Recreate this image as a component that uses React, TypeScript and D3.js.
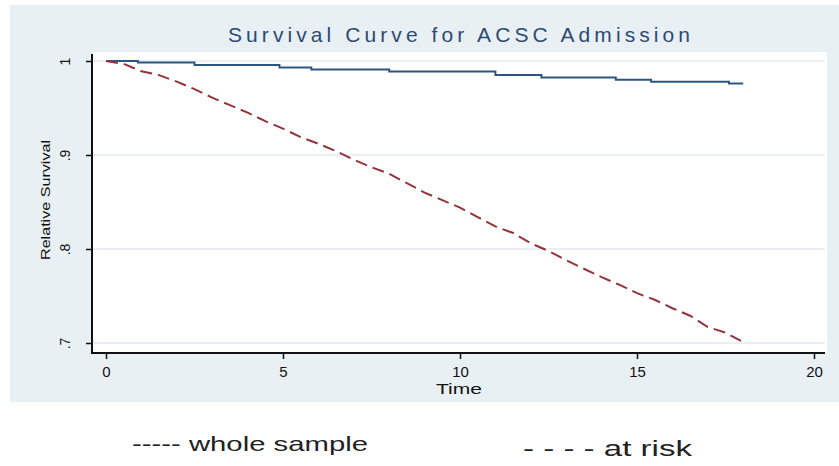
import React, { useEffect, useRef } from 'react';
import * as d3 from 'd3';

const title = 'Survival Curve for ACSC Admission';
const xTicks = [0, 5, 10, 15, 20];
const yTicks = [0.7, 0.8, 0.9, 1];
const yTickLabels = ['.7', '.8', '.9', '1'];

// whole sample (solid step curve)
const wholeTime = [0, 0.9, 2.5, 4.9, 5.8, 8.0, 11.0, 12.3, 14.4, 15.4, 17.6, 18.0];
const wholeSurv = [1, 0.9984, 0.9957, 0.9931, 0.991, 0.9888, 0.985, 0.9824, 0.98, 0.978, 0.976, 0.976];

// at risk (dashed curve)
const riskTime = [0, 0.5, 1, 1.5, 2, 2.5, 3, 3.5, 4, 4.5, 5, 5.5, 6, 6.5, 7, 7.5, 8, 8.5, 9,
  9.5, 10, 10.5, 11, 11.5, 12, 12.5, 13, 13.5, 14, 14.5, 15, 15.5, 16, 16.5, 17, 17.5, 18];
const riskSurv = [1.0, 0.997, 0.989, 0.985, 0.978, 0.97, 0.961, 0.953, 0.945, 0.936, 0.928, 0.919,
  0.912, 0.904, 0.895, 0.887, 0.88, 0.87, 0.86, 0.852, 0.844, 0.834, 0.824, 0.817, 0.806, 0.798,
  0.788, 0.779, 0.77, 0.762, 0.753, 0.746, 0.737, 0.729, 0.717, 0.711, 0.701];

const FONT = '"Liberation Sans", Arial, sans-serif';

function SurvivalChart() {
  const svgRef = useRef<SVGSVGElement | null>(null);

  useEffect(() => {
    const svg = d3.select(svgRef.current);
    svg.selectAll('*').remove();

    const left = 92, right = 827, top = 52, bottom = 353;

    const x = d3.scaleLinear().domain([0, 20]).range([106, 814]);
    const y = d3.scaleLinear().domain([0.7, 1]).range([343, 61]);

    // outer panel
    svg.append('rect')
      .attr('x', 10).attr('y', 5)
      .attr('width', 829).attr('height', 397)
      .attr('fill', '#e9f0f3');

    // plot area
    svg.append('rect')
      .attr('x', left).attr('y', top)
      .attr('width', right - left).attr('height', bottom - top)
      .attr('fill', '#ffffff');

    // grid
    svg.append('g')
      .selectAll('line')
      .data(yTicks)
      .enter()
      .append('line')
      .attr('x1', left).attr('x2', right - 2)
      .attr('y1', d => y(d)).attr('y2', d => y(d))
      .attr('stroke', '#e2eaee')
      .attr('stroke-width', 1.5);

    // lines
    const wholeData = wholeTime.map((t, i) => [t, wholeSurv[i]] as [number, number]);
    const riskData = riskTime.map((t, i) => [t, riskSurv[i]] as [number, number]);

    const stepLine = d3.line<[number, number]>()
      .x(d => x(d[0]))
      .y(d => y(d[1]))
      .curve(d3.curveStepAfter);

    const plainLine = d3.line<[number, number]>()
      .x(d => x(d[0]))
      .y(d => y(d[1]));

    svg.append('path')
      .attr('d', stepLine(wholeData))
      .attr('fill', 'none')
      .attr('stroke', '#2c5580')
      .attr('stroke-width', 2);

    svg.append('path')
      .attr('d', plainLine(riskData))
      .attr('fill', 'none')
      .attr('stroke', '#93343c')
      .attr('stroke-width', 2)
      .attr('stroke-dasharray', '12,6');

    // y axis
    const yAxis = svg.append('g')
      .attr('transform', `translate(${left},0)`)
      .call(d3.axisLeft(y).tickValues(yTicks)
        .tickFormat((d, i) => yTickLabels[i])
        .tickSize(6));
    yAxis.select('.domain').remove();
    yAxis.selectAll('line').attr('stroke', '#111').attr('stroke-width', 1.5);
    yAxis.selectAll('text')
      .attr('x', 0).attr('dy', 0)
      .attr('transform', 'translate(-22,0) rotate(-90)')
      .attr('text-anchor', 'middle')
      .attr('font-family', FONT)
      .attr('font-size', 14)
      .attr('fill', '#111');

    // x axis
    const xAxis = svg.append('g')
      .attr('transform', `translate(0,${bottom})`)
      .call(d3.axisBottom(x).tickValues(xTicks).tickSize(6));
    xAxis.select('.domain').remove();
    xAxis.selectAll('line').attr('stroke', '#111').attr('stroke-width', 1.5);
    xAxis.selectAll('text')
      .attr('y', 13)
      .attr('font-family', FONT)
      .attr('font-size', 15)
      .attr('fill', '#111');

    // axis frame lines
    svg.append('line')
      .attr('x1', left).attr('x2', left)
      .attr('y1', top + 2).attr('y2', bottom + 1)
      .attr('stroke', '#111').attr('stroke-width', 2);
    svg.append('line')
      .attr('x1', left).attr('x2', right - 2)
      .attr('y1', bottom).attr('y2', bottom)
      .attr('stroke', '#111').attr('stroke-width', 2);

    // title
    svg.append('text')
      .attr('x', 228).attr('y', 42)
      .attr('textLength', 462)
      .attr('lengthAdjust', 'spacing')
      .attr('font-family', FONT)
      .attr('font-size', 21)
      .attr('fill', '#2c4a74')
      .text(title);

    // axis titles
    svg.append('text')
      .attr('x', 436).attr('y', 394)
      .attr('textLength', 46)
      .attr('lengthAdjust', 'spacingAndGlyphs')
      .attr('font-family', FONT)
      .attr('font-size', 14)
      .attr('fill', '#111')
      .text('Time');

    svg.append('text')
      .attr('transform', 'translate(50,200) rotate(-90)')
      .attr('x', -60).attr('y', 0)
      .attr('textLength', 120)
      .attr('lengthAdjust', 'spacingAndGlyphs')
      .attr('font-family', FONT)
      .attr('font-size', 13)
      .attr('fill', '#111')
      .text('Relative Survival');

    // legend
    svg.append('text')
      .attr('x', 132).attr('y', 451)
      .attr('textLength', 236)
      .attr('lengthAdjust', 'spacingAndGlyphs')
      .attr('font-family', FONT)
      .attr('font-size', 21)
      .attr('fill', '#222')
      .text('----- whole sample');

    svg.append('text')
      .attr('x', 523).attr('y', 456)
      .attr('textLength', 169)
      .attr('lengthAdjust', 'spacingAndGlyphs')
      .attr('font-family', FONT)
      .attr('font-size', 22)
      .attr('fill', '#222')
      .text('- - - -  at risk');
  }, []);

  return (
    <svg ref={svgRef} width={839} height={466}
      style={{ position: 'absolute', left: 0, top: 0, background: '#ffffff' }} />
  );
}

export default function App() {
  return <SurvivalChart />;
}
